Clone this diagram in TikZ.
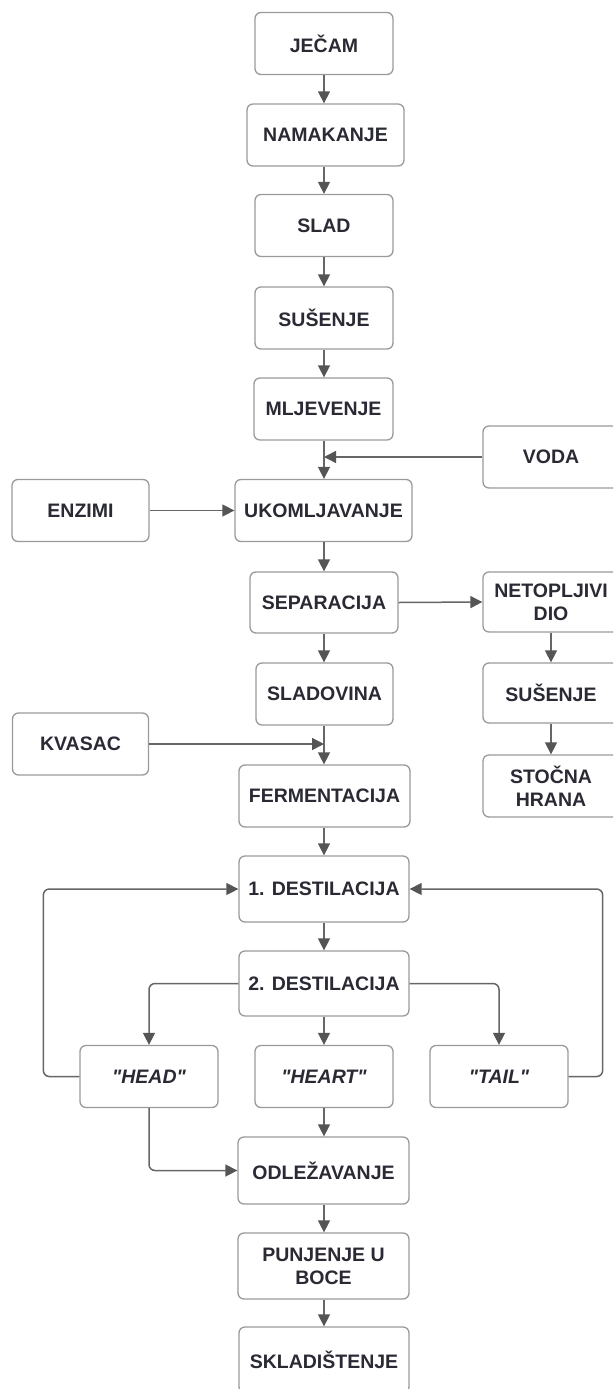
\documentclass[tikz,border=0pt]{standalone}
\usepackage{fontspec}
\setmainfont{Liberation Sans}[Ligatures=TeXOff]
\usetikzlibrary{arrows.meta}
\definecolor{boxgray}{HTML}{9A9A9A}
\definecolor{linegray}{HTML}{666666}
\definecolor{headgray}{HTML}{555555}
\definecolor{txt}{HTML}{2A2A34}
\begin{document}
\begin{tikzpicture}[x=1pt,y=-1pt,
  box/.style={draw=boxgray, line width=1.3pt, rounded corners=6pt, fill=white,
    minimum height=62pt, minimum width=138pt, text=txt, inner sep=0pt, align=center,
    font=\bfseries\fontsize{19.5}{23}\selectfont},
  ibox/.style={box, font=\bfseries\itshape\fontsize{19.5}{23}\selectfont},
  conn/.style={draw=linegray, line width=1.5pt, rounded corners=6pt,
    -{Triangle[length=12pt,width=12pt,fill=headgray,color=headgray]}},
  line/.style={draw=linegray, line width=1.5pt}]
\useasboundingbox (0,0) rectangle (613,1389);
\clip (0,0) rectangle (613,1389);
% main column
\node[box] (jecam) at (324,43.5) {JEČAM};
\node[box, minimum width=157pt] (nam) at (325.5,135) {NAMAKANJE};
\node[box] (slad) at (324,225.5) {SLAD};
\node[box] (sus) at (324,318) {SUŠENJE};
\node[box, minimum width=139pt] (mlj) at (323.5,409) {MLJEVENJE};
\node[box, minimum width=177pt] (ukom) at (323.5,510.5) {UKOMLJAVANJE};
\node[box, minimum width=148pt, minimum height=61pt] (sep) at (324,602.5) {SEPARACIJA};
\node[box, minimum width=137pt] (sladov) at (324.5,694) {SLADOVINA};
\node[box, minimum width=171pt] (ferm) at (324.5,796) {FERMENTACIJA};
\node[box, minimum width=170pt, minimum height=66pt] (d1) at (324,889) {1. DESTILACIJA};
\node[box, minimum width=170pt, minimum height=65pt] (d2) at (324,983.5) {2. DESTILACIJA};
\node[ibox] (head) at (149,1076.5) {"HEAD"};
\node[ibox] (heart) at (324,1076.5) {"HEART"};
\node[ibox] (tail) at (499,1076.5) {"TAIL"};
\node[box, minimum width=171pt, minimum height=67pt] (odl) at (323.5,1170.5) {ODLEŽAVANJE};
\node[box, minimum width=171pt, minimum height=66pt] (pun) at (323.5,1266) {PUNJENJE U\\BOCE};
\node[box, minimum width=170pt, minimum height=66pt] (skl) at (324,1360) {SKLADIŠTENJE};
% side boxes
\node[box, minimum width=136pt] (voda) at (551,457) {VODA};
\node[box, minimum width=137pt] (enz) at (80.5,510.5) {ENZIMI};
\node[box, minimum width=136pt, minimum height=60pt] (neto) at (551,602) {NETOPLJIVI\\DIO};
\node[box, minimum width=136pt, minimum height=60pt] (sus2) at (551,693) {SUŠENJE};
\node[box, minimum width=136pt] (kvas) at (80.5,744) {KVASAC};
\node[box, minimum width=136pt] (stoc) at (551,786) {STOČNA\\HRANA};
\coordinate (vodaend) at (324,457);
\coordinate (kvasend) at (324,744);
% connectors
\draw[conn] (jecam.south -| 324,0) -- (nam.north -| 324,0);
\draw[conn] (nam.south -| 324,0) -- (slad.north);
\draw[conn] (slad) -- (sus);
\draw[conn] (sus) -- (mlj.north -| 324,0);
\draw[conn] (mlj.south -| 324,0) -- (ukom.north -| 324,0);
\draw[conn] (voda.west) -- (vodaend);
\draw[conn] (enz.east) -- (ukom.west);
\draw[conn] (ukom.south -| 324,0) -- (sep.north);
\draw[conn] (sep.east) -- (neto.west);
\draw[conn] (neto) -- (sus2);
\draw[conn] (sus2) -- (stoc);
\draw[conn] (sep.south) -- (sladov.north -| 324,0);
\draw[conn] (sladov.south -| 324,0) -- (ferm.north -| 324,0);
\draw[conn] (kvas.east) -- (kvasend);
\draw[conn] (ferm.south -| 324,0) -- (d1.north);
\draw[conn] (d1) -- (d2);
\draw[conn] (d2.west) -| (head.north);
\draw[conn] (d2.east) -| (tail.north);
\draw[conn] (d2) -- (heart);
\draw[conn] (head.west) -- ++(-36,0) |- (d1.west);
\draw[conn] (tail.east) -- ++(34,0) |- (d1.east);
\draw[conn] (head.south) |- (odl.west);
\draw[conn] (heart) -- (odl.north -| 324,0);
\draw[conn] (odl.south -| 324,0) -- (pun.north -| 324,0);
\draw[conn] (pun.south -| 324,0) -- (skl.north);
\end{tikzpicture}
\end{document}
